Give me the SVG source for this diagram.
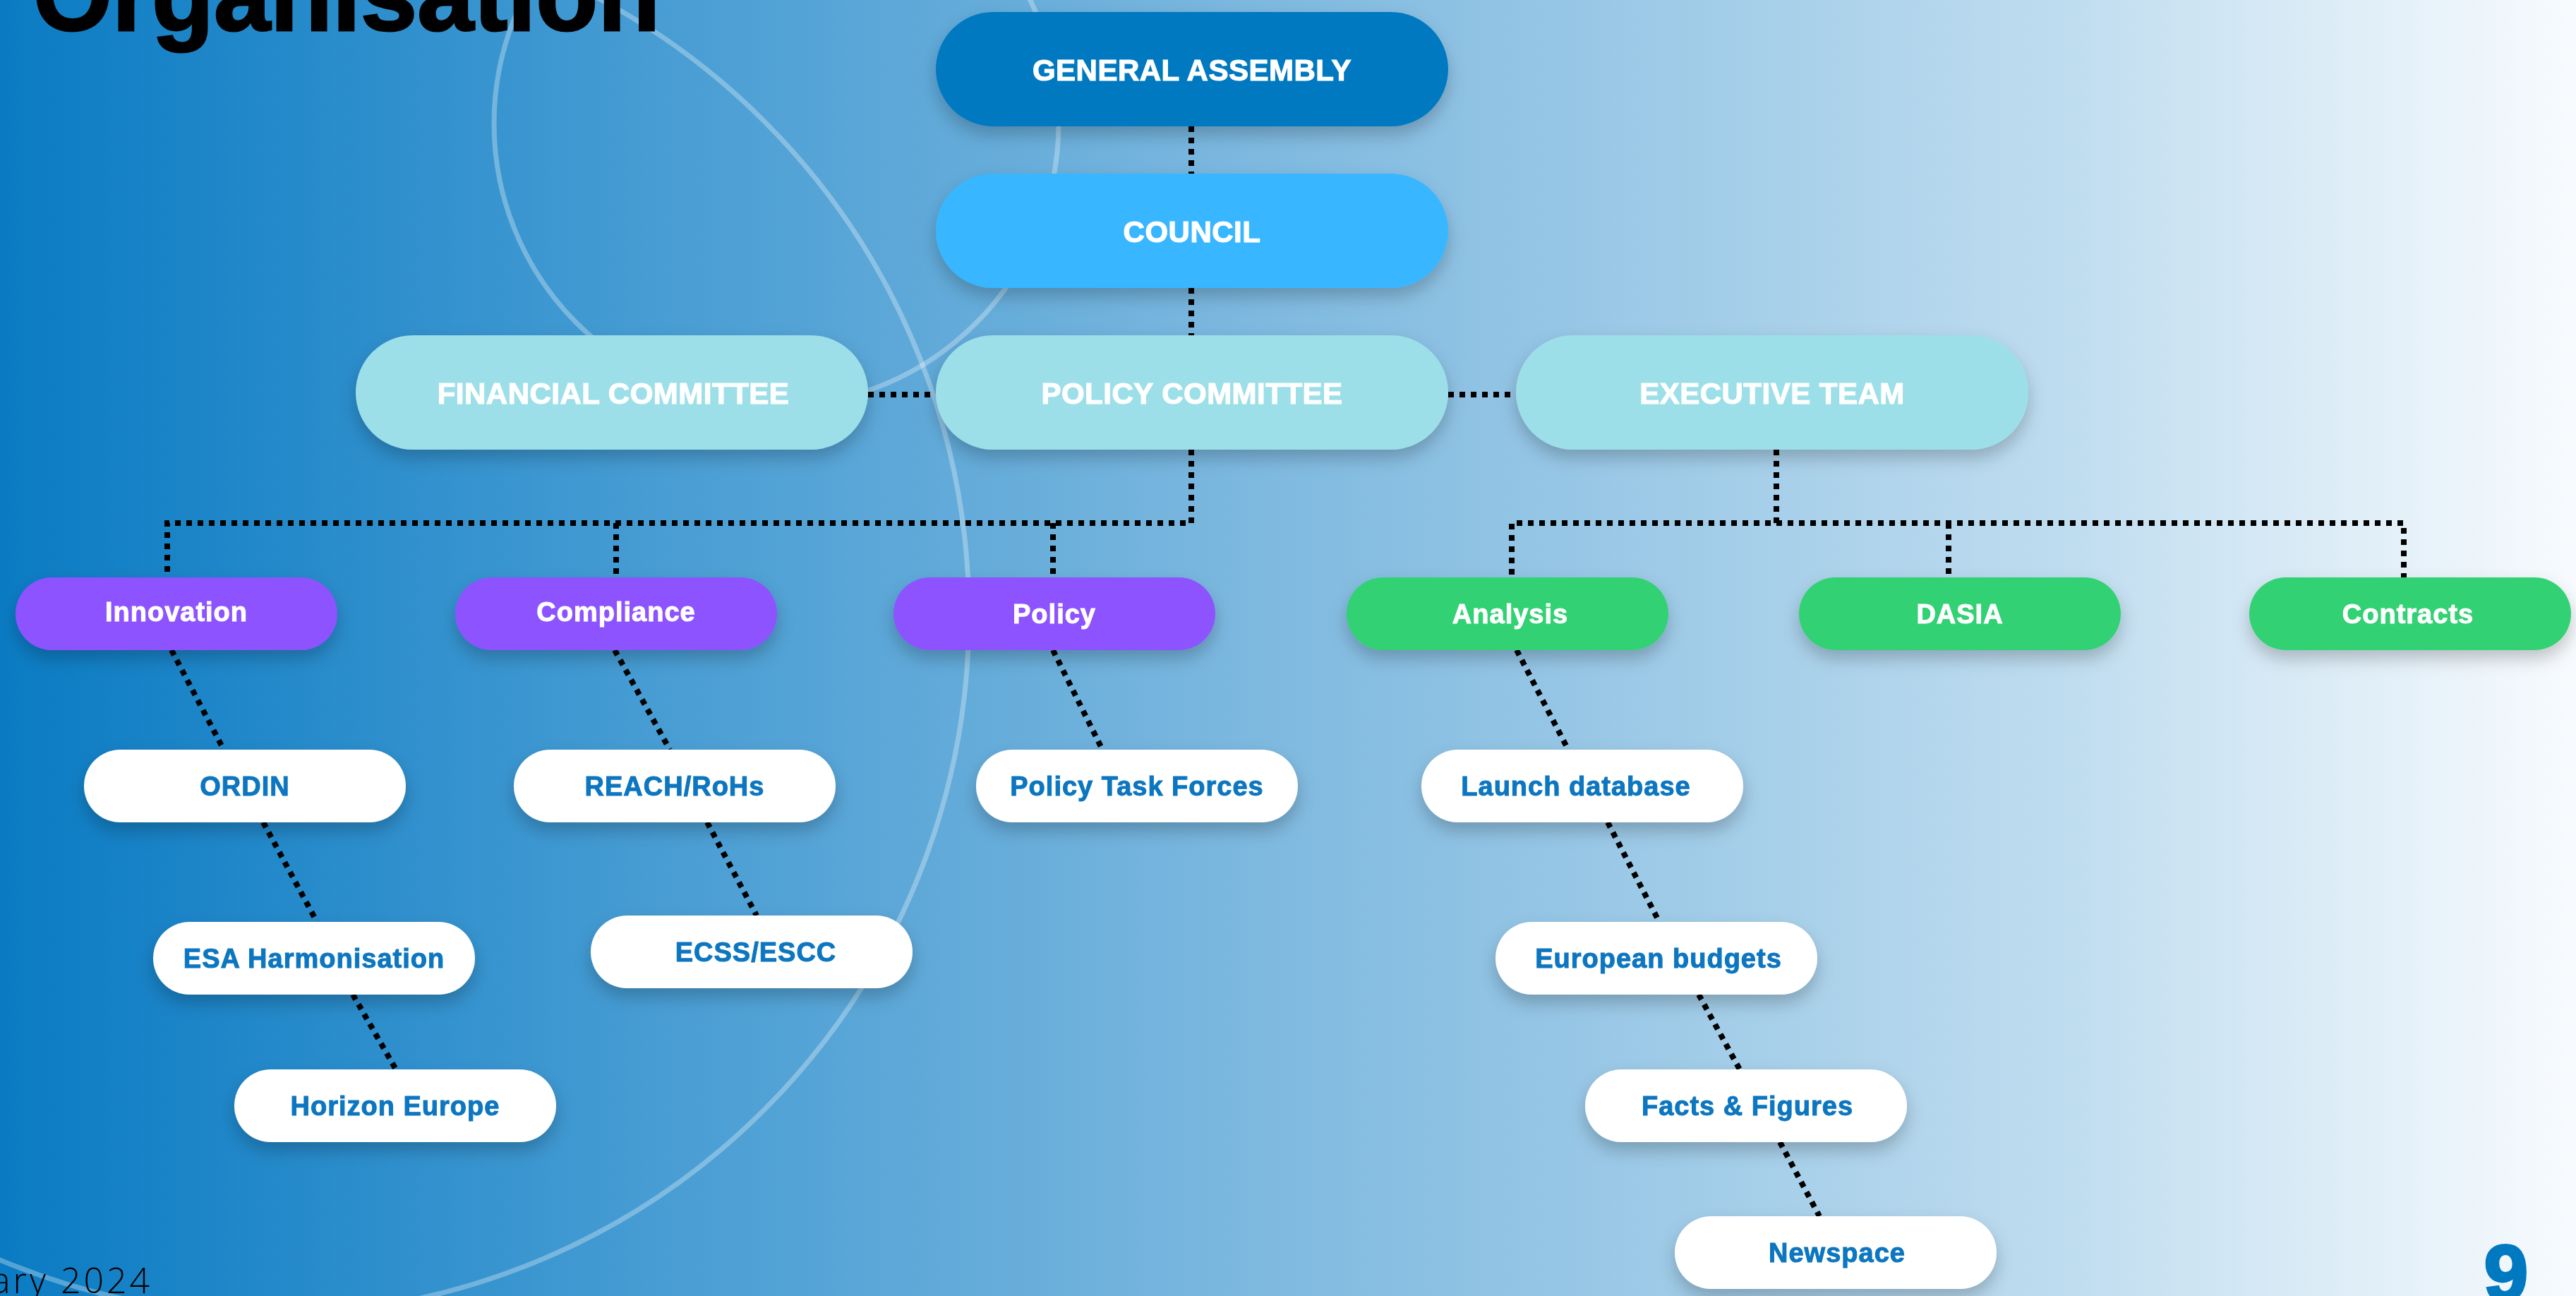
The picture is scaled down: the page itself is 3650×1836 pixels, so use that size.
<svg xmlns="http://www.w3.org/2000/svg" width="3650" height="1836" viewBox="0 0 3650 1836">
  <defs>
    <linearGradient id="bg" x1="0" y1="0" x2="1" y2="0">
      <stop offset="0" stop-color="#0a7bc3"/>
      <stop offset="0.25" stop-color="#469cd3"/>
      <stop offset="0.5" stop-color="#80bae0"/>
      <stop offset="0.8" stop-color="#bedcef"/>
      <stop offset="1" stop-color="#f8fbfe"/>
    </linearGradient>
    <filter id="shadow" x="-20%" y="-30%" width="140%" height="180%">
      <feDropShadow dx="0" dy="12" stdDeviation="12" flood-color="#000" flood-opacity="0.22"/>
    </filter>
    <style>
      .deco { fill: none; stroke: #ffffff; stroke-opacity: 0.3; stroke-width: 7; }
      .dot { fill: none; stroke: #000; stroke-width: 8; stroke-dasharray: 8 8; }
      .n1 { filter: url(#shadow); }
      .t1 { font-family: "Liberation Sans", Arial, sans-serif; font-weight: bold; font-size: 42px; fill: #ffffff; stroke: #ffffff; stroke-width: 1.2px; text-anchor: middle; letter-spacing: 0.5px; }
      .t2 { font-family: "Liberation Sans", Arial, sans-serif; font-weight: bold; font-size: 38px; fill: #ffffff; stroke: #ffffff; stroke-width: 1px; text-anchor: middle; letter-spacing: 1px; }
      .t3 { font-family: "Liberation Sans", Arial, sans-serif; font-weight: bold; font-size: 38px; fill: #0b76c0; stroke: #0b76c0; stroke-width: 1px; text-anchor: middle; letter-spacing: 1px; }
      .ga { fill: #0079c1; }
      .co { fill: #38b6ff; }
      .cm { fill: #9ddfe8; }
      .pu { fill: #8c52ff; }
      .gr { fill: #32d173; }
      .wh { fill: #ffffff; }
    </style>
  </defs>

  <rect x="0" y="0" width="3650" height="1836" fill="url(#bg)"/>

  <!-- decorative circles -->
  <circle class="deco" cx="1100" cy="175" r="400"/>
  <circle class="deco" cx="383" cy="872" r="990"/>

  <!-- title and footer -->
  <text x="47" y="43" font-family="'Liberation Sans', Arial, sans-serif" font-weight="bold" font-size="144" fill="#000" stroke="#000" stroke-width="3">Organisation</text>
  <text x="-12" y="1832" font-family="'Open Sans', 'Liberation Sans', sans-serif" font-weight="300" font-size="50" letter-spacing="4" fill="#000">ary 2024</text>
  <text x="3551" y="1842" font-family="'Liberation Sans', Arial, sans-serif" font-weight="bold" font-size="112" fill="#0079c1" stroke="#0079c1" stroke-width="4" text-anchor="middle">9</text>

  <!-- connectors -->
  <g id="connectors">
    <line class="dot" x1="1688" y1="179" x2="1688" y2="246"/>
    <line class="dot" x1="1688" y1="408" x2="1688" y2="475"/>
    <line class="dot" x1="1230" y1="559" x2="1326" y2="559"/>
    <line class="dot" x1="2052" y1="559" x2="2148" y2="559"/>
    <polyline class="dot" points="1688,637 1688,741 237,741 237,818"/>
    <line class="dot" x1="873" y1="741" x2="873" y2="818"/>
    <line class="dot" x1="1492" y1="741" x2="1492" y2="818"/>
    <polyline class="dot" points="2517,637 2517,741 2142,741 2142,818"/>
    <polyline class="dot" points="2517,741 3406,741 3406,818"/>
    <line class="dot" x1="2761" y1="741" x2="2761" y2="818"/>

    <line class="dot" x1="243" y1="921" x2="317" y2="1062"/>
    <line class="dot" x1="373" y1="1165" x2="449" y2="1306"/>
    <line class="dot" x1="500" y1="1409" x2="561" y2="1515"/>
    <line class="dot" x1="871" y1="921" x2="949" y2="1062"/>
    <line class="dot" x1="1002" y1="1165" x2="1072" y2="1297"/>
    <line class="dot" x1="1492" y1="921" x2="1562" y2="1062"/>
    <line class="dot" x1="2149" y1="921" x2="2222" y2="1062"/>
    <line class="dot" x1="2278" y1="1165" x2="2351" y2="1306"/>
    <line class="dot" x1="2407" y1="1409" x2="2465" y2="1515"/>
    <line class="dot" x1="2522" y1="1618" x2="2578" y2="1723"/>
  </g>

  <!-- level 1 -->
  <g id="general-assembly" class="n1">
    <rect class="ga" x="1326" y="17" width="726" height="162" rx="81"/>
    <text class="t1" x="1689" y="114">GENERAL ASSEMBLY</text>
  </g>
  <g id="council" class="n1">
    <rect class="co" x="1326" y="246" width="726" height="162" rx="81"/>
    <text class="t1" x="1689" y="343">COUNCIL</text>
  </g>
  <g id="financial-committee" class="n1">
    <rect class="cm" x="504" y="475" width="726" height="162" rx="81"/>
    <text class="t1" x="869" y="572" letter-spacing="1">FINANCIAL COMMITTEE</text>
  </g>
  <g id="policy-committee" class="n1">
    <rect class="cm" x="1326" y="475" width="726" height="162" rx="81"/>
    <text class="t1" x="1689" y="572">POLICY COMMITTEE</text>
  </g>
  <g id="executive-team" class="n1">
    <rect class="cm" x="2148" y="475" width="726" height="162" rx="81"/>
    <text class="t1" x="2511" y="572">EXECUTIVE TEAM</text>
  </g>

  <!-- level 2 -->
  <g id="innovation" class="n1">
    <rect class="pu" x="22" y="818" width="456" height="103" rx="51.5"/>
    <text class="t2" x="250" y="880">Innovation</text>
  </g>
  <g id="compliance" class="n1">
    <rect class="pu" x="645" y="818" width="456" height="103" rx="51.5"/>
    <text class="t2" x="873" y="880">Compliance</text>
  </g>
  <g id="policy" class="n1">
    <rect class="pu" x="1266" y="818" width="456" height="103" rx="51.5"/>
    <text class="t2" x="1494" y="883">Policy</text>
  </g>
  <g id="analysis" class="n1">
    <rect class="gr" x="1908" y="818" width="456" height="103" rx="51.5"/>
    <text class="t2" x="2140" y="883">Analysis</text>
  </g>
  <g id="dasia" class="n1">
    <rect class="gr" x="2549" y="818" width="456" height="103" rx="51.5"/>
    <text class="t2" x="2777" y="883">DASIA</text>
  </g>
  <g id="contracts" class="n1">
    <rect class="gr" x="3187" y="818" width="456" height="103" rx="51.5"/>
    <text class="t2" x="3412" y="883">Contracts</text>
  </g>

  <!-- level 3 -->
  <g id="ordin" class="n1">
    <rect class="wh" x="119" y="1062" width="456" height="103" rx="51.5"/>
    <text class="t3" x="347" y="1127">ORDIN</text>
  </g>
  <g id="esa-harmonisation" class="n1">
    <rect class="wh" x="217" y="1306" width="456" height="103" rx="51.5"/>
    <text class="t3" x="445" y="1371">ESA Harmonisation</text>
  </g>
  <g id="horizon-europe" class="n1">
    <rect class="wh" x="332" y="1515" width="456" height="103" rx="51.5"/>
    <text class="t3" x="560" y="1580">Horizon Europe</text>
  </g>
  <g id="reach-rohs" class="n1">
    <rect class="wh" x="728" y="1062" width="456" height="103" rx="51.5"/>
    <text class="t3" x="956" y="1127">REACH/RoHs</text>
  </g>
  <g id="ecss-escc" class="n1">
    <rect class="wh" x="837" y="1297" width="456" height="103" rx="51.5"/>
    <text class="t3" x="1071" y="1362">ECSS/ESCC</text>
  </g>
  <g id="policy-task-forces" class="n1">
    <rect class="wh" x="1383" y="1062" width="456" height="103" rx="51.5"/>
    <text class="t3" x="1611" y="1127">Policy Task Forces</text>
  </g>
  <g id="launch-database" class="n1">
    <rect class="wh" x="2014" y="1062" width="456" height="103" rx="51.5"/>
    <text class="t3" x="2233" y="1127">Launch database</text>
  </g>
  <g id="european-budgets" class="n1">
    <rect class="wh" x="2119" y="1306" width="456" height="103" rx="51.5"/>
    <text class="t3" x="2350" y="1371">European budgets</text>
  </g>
  <g id="facts-figures" class="n1">
    <rect class="wh" x="2246" y="1515" width="456" height="103" rx="51.5"/>
    <text class="t3" x="2476" y="1580">Facts &amp; Figures</text>
  </g>
  <g id="newspace" class="n1">
    <rect class="wh" x="2373" y="1723" width="456" height="103" rx="51.5"/>
    <text class="t3" x="2603" y="1788">Newspace</text>
  </g>
</svg>
